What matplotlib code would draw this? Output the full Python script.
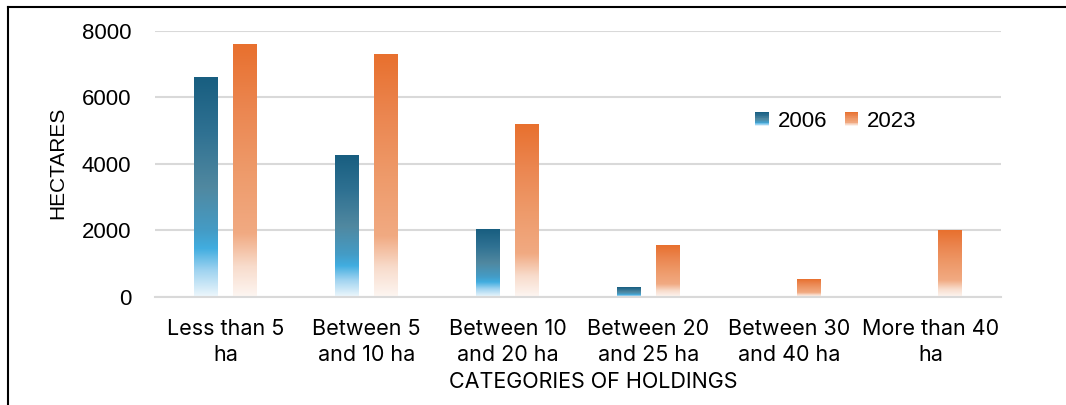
import numpy as np
import matplotlib
matplotlib.use("Agg")
import matplotlib.pyplot as plt
from matplotlib.colors import LinearSegmentedColormap
from matplotlib.patches import Rectangle
from matplotlib.legend_handler import HandlerBase
from matplotlib.lines import Line2D

categories = ["Less than 5\nha", "Between 5\nand 10 ha", "Between 10\nand 20 ha",
              "Between 20\nand 25 ha", "Between 30\nand 40 ha", "More than 40\nha"]
years = ["2006", "2023"]
vals_2006 = [6610, 4245, 2045, 300, 0, 0]
vals_2023 = [7580, 7280, 5200, 1535, 540, 2015]

# gradients bottom (0) -> top (1)
cmap_blue = LinearSegmentedColormap.from_list("b", [
    (0.0, "#eef7fc"), (0.12, "#9fd3f0"), (0.22, "#41ade0"), (0.30, "#449cc6"),
    (0.50, "#5088a0"), (0.75, "#2f7192"), (1.0, "#185e80")])
cmap_orange = LinearSegmentedColormap.from_list("o", [
    (0.0, "#fdf6f2"), (0.12, "#f8dccc"), (0.25, "#f1aa82"), (0.50, "#ee9a6a"),
    (0.75, "#eb8650"), (1.0, "#e8702e")])

fig = plt.figure(figsize=(10.66, 4.05), dpi=100)
ax = fig.add_axes([0.1454, 0.2667, 0.7936, 0.6568])

grad = np.linspace(0, 1, 256).reshape(-1, 1)
x = np.arange(len(categories))
w = 0.17
off = 0.135

def gbar(xc, h, cmap):
    if h <= 0:
        return
    ax.imshow(grad, cmap=cmap, origin="lower", aspect="auto",
              extent=(xc - w / 2, xc + w / 2, 0, h), zorder=2, interpolation="bilinear")

for i in range(len(categories)):
    gbar(x[i] - off, vals_2006[i], cmap_blue)
    gbar(x[i] + off, vals_2023[i], cmap_orange)

ax.set_xlim(-0.5, len(categories) - 0.5)
ax.set_ylim(0, 8000)
ax.set_yticks([0, 2000, 4000, 6000, 8000])
ax.yaxis.grid(True, color="#d9d9d9", linewidth=1.5)
ax.set_axisbelow(True)
for s in ["top", "right", "left"]:
    ax.spines[s].set_visible(False)
ax.spines["bottom"].set_color("#d9d9d9")
ax.spines["bottom"].set_linewidth(1.5)
ax.tick_params(axis="both", length=0)
ax.tick_params(axis="y", pad=17, labelsize=16)
ax.set_xticks(x)
ax.set_xticklabels(categories, fontsize=15.5, family="Inter", linespacing=1.38)
ax.tick_params(axis="x", pad=16)
for t in ax.get_yticklabels():
    t.set_family("Liberation Sans")

ax.set_ylabel("HECTARES", fontsize=15, family="Liberation Sans")
ax.yaxis.set_label_coords(-0.104, 0.504)
ax.set_xlabel("CATEGORIES OF HOLDINGS", fontsize=15.5, family="Inter")
ax.xaxis.set_label_coords(0.518, -0.283)


class GradHandler(HandlerBase):
    def __init__(self, cmap):
        super().__init__()
        self.cmap = cmap

    def create_artists(self, legend, orig_handle, xdescent, ydescent, width, height, fontsize, trans):
        arts = []
        n = 20
        for k in range(n):
            r = Rectangle((-xdescent, -ydescent + height * k / n), width, height / n + 0.3,
                          facecolor=self.cmap((k + 0.5) / n), edgecolor="none", transform=trans)
            arts.append(r)
        return arts


h1 = Rectangle((0, 0), 1, 1)
h2 = Rectangle((0, 0), 1, 1)
ax.legend([h1, h2], years, handler_map={h1: GradHandler(cmap_blue), h2: GradHandler(cmap_orange)},
          loc="center", bbox_to_anchor=(0.805, 0.66), ncol=2, frameon=False,
          prop={"family": "Liberation Sans", "size": 16}, handlelength=0.6, handleheight=0.6,
          handletextpad=0.4, columnspacing=0.8)

# outer frame
fig.add_artist(Line2D([8 / 1066, 1], [1 - 6.5 / 405, 1 - 6.5 / 405], color="black", linewidth=1.5))
fig.add_artist(Line2D([8 / 1066, 8 / 1066], [0, 1 - 6.5 / 405], color="black", linewidth=1.5))

fig.savefig("out.png", dpi=100)
